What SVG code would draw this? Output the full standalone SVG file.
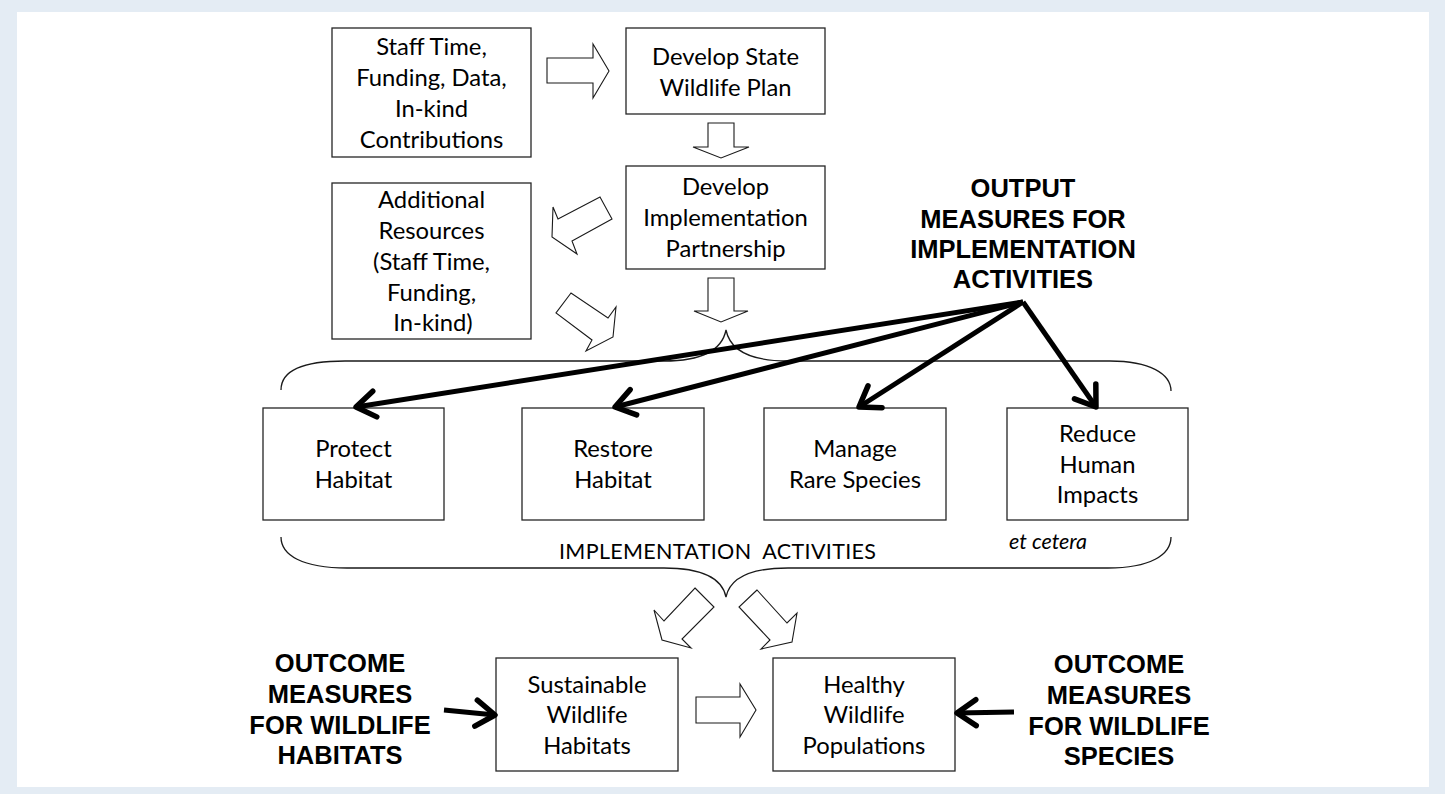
<svg xmlns="http://www.w3.org/2000/svg" width="1445" height="794" viewBox="0 0 1445 794">
  <style>
    .box { fill: #fff; stroke: #262626; stroke-width: 1.3; }
    .lbl { font-family: Lato, "Liberation Sans", sans-serif; font-size: 23.8px; fill: #000; text-anchor: middle; }
    .bold { font-family: "Liberation Sans", Arial, sans-serif; font-weight: bold; font-size: 25.5px; fill: #000; text-anchor: middle; }
    .block { fill: #fff; stroke: #1a1a1a; stroke-width: 1.1; stroke-linejoin: miter; }
    .thick { fill: none; stroke: #000; stroke-width: 5; marker-end: url(#chevron); }
    .brace { fill: none; stroke: #1a1a1a; stroke-width: 1.3; }
    .note { font-family: Lato, "Liberation Sans", sans-serif; font-size: 21.5px; fill: #000; }
  </style>
  <defs>
    <marker id="chevron" markerUnits="userSpaceOnUse" markerWidth="40" markerHeight="40" refX="0" refY="0" viewBox="-30 -20 40 40" orient="auto" overflow="visible">
      <path d="M-19,-13 L0,0 L-19,13" fill="none" stroke="#000" stroke-width="5.5" stroke-linecap="round" stroke-linejoin="round"/>
    </marker>
  </defs>

  <!-- page -->
  <rect x="0" y="0" width="1445" height="794" fill="#e4ecf4"/>
  <rect x="17" y="12" width="1412" height="775" fill="#fff"/>

  <!-- nodes -->
  <g id="inputs">
    <rect class="box" x="332" y="28" width="199" height="129"/>
    <text class="lbl" x="431.5" y="55">Staff Time,</text>
    <text class="lbl" x="431.5" y="86">Funding, Data,</text>
    <text class="lbl" x="431.5" y="117">In-kind</text>
    <text class="lbl" x="431.5" y="148">Contributions</text>
  </g>
  <g id="develop-plan">
    <rect class="box" x="626" y="28" width="199" height="86"/>
    <text class="lbl" x="725.5" y="65">Develop State</text>
    <text class="lbl" x="725.5" y="96">Wildlife Plan</text>
  </g>
  <g id="develop-partnership">
    <rect class="box" x="626" y="166" width="199" height="103"/>
    <text class="lbl" x="725.5" y="195">Develop</text>
    <text class="lbl" x="725.5" y="226">Implementation</text>
    <text class="lbl" x="725.5" y="257">Partnership</text>
  </g>
  <g id="additional-resources">
    <rect class="box" x="332" y="183" width="199" height="156"/>
    <text class="lbl" x="431.5" y="208">Additional</text>
    <text class="lbl" x="431.5" y="239">Resources</text>
    <text class="lbl" x="431.5" y="270">(Staff Time,</text>
    <text class="lbl" x="431.5" y="301">Funding,</text>
    <text class="lbl" x="433" y="331">In-kind)</text>
  </g>
  <g id="protect-habitat">
    <rect class="box" x="263" y="408" width="181" height="112"/>
    <text class="lbl" x="353.5" y="457">Protect</text>
    <text class="lbl" x="353.5" y="488">Habitat</text>
  </g>
  <g id="restore-habitat">
    <rect class="box" x="522" y="408" width="182" height="112"/>
    <text class="lbl" x="613" y="457">Restore</text>
    <text class="lbl" x="613" y="488">Habitat</text>
  </g>
  <g id="manage-species">
    <rect class="box" x="764" y="408" width="182" height="112"/>
    <text class="lbl" x="855" y="457">Manage</text>
    <text class="lbl" x="855" y="488">Rare Species</text>
  </g>
  <g id="reduce-impacts">
    <rect class="box" x="1007" y="408" width="181" height="112"/>
    <text class="lbl" x="1097.5" y="442">Reduce</text>
    <text class="lbl" x="1097.5" y="473">Human</text>
    <text class="lbl" x="1097.5" y="503">Impacts</text>
  </g>
  <g id="sustainable-habitats">
    <rect class="box" x="496" y="658" width="182" height="113"/>
    <text class="lbl" x="587" y="693">Sustainable</text>
    <text class="lbl" x="587" y="723">Wildlife</text>
    <text class="lbl" x="587" y="754">Habitats</text>
  </g>
  <g id="healthy-populations">
    <rect class="box" x="773" y="658" width="182" height="113"/>
    <text class="lbl" x="864" y="693">Healthy</text>
    <text class="lbl" x="864" y="723">Wildlife</text>
    <text class="lbl" x="864" y="754">Populations</text>
  </g>

  <!-- measure labels -->
  <g id="output-measures">
    <text class="bold" x="1023" y="197">OUTPUT</text>
    <text class="bold" x="1023" y="228">MEASURES FOR</text>
    <text class="bold" x="1023" y="258">IMPLEMENTATION</text>
    <text class="bold" x="1023" y="288">ACTIVITIES</text>
  </g>
  <g id="outcome-habitats">
    <text class="bold" x="340" y="672">OUTCOME</text>
    <text class="bold" x="340" y="703">MEASURES</text>
    <text class="bold" x="340" y="734">FOR WILDLIFE</text>
    <text class="bold" x="340" y="764">HABITATS</text>
  </g>
  <g id="outcome-species">
    <text class="bold" x="1119" y="673">OUTCOME</text>
    <text class="bold" x="1119" y="704">MEASURES</text>
    <text class="bold" x="1119" y="735">FOR WILDLIFE</text>
    <text class="bold" x="1119" y="765">SPECIES</text>
  </g>

  <!-- grouping braces and their captions -->
  <g id="activity-braces">
    <path class="brace" d="M281,390 C281,372 300,361 345,361 L664,361 C702,361 722,350 726,330 C730,350 750,361 788,361 L1110,361 C1150,361 1171,374 1171,391"/>
    <path class="brace" d="M281,537 C281,555 302,568 347,568 L664,568 C702,568 722,578 726,597 C730,578 750,568 788,568 L1108,568 C1150,568 1171,555 1171,537"/>
    <text class="note" x="559" y="559" textLength="317" lengthAdjust="spacing" xml:space="preserve">IMPLEMENTATION  ACTIVITIES</text>
    <text class="note" x="1009" y="549" font-style="italic" font-size="24.5px">et cetera</text>
  </g>

  <!-- connectors -->
  <g id="connectors">
    <!-- block arrows -->
    <polygon class="block" points="547,58 593,58 593,44 609,71 593,98 593,83 547,83"/>
    <polygon class="block" points="708,123 734,123 734,147 749,147 721,158 693,147 708,147"/>
    <polygon class="block" points="708,278 734,278 734,311 748,311 721,322 694,311 708,311"/>
    <polygon class="block" points="600,197 612,219 572,241 577,254 552,237 553,207 558,219"/>
    <polygon class="block" points="571,293 556,313 592,340 586,351 613,337 616,307 608,318"/>
    <polygon class="block" points="695,588 714,607 682,639 691,648 662,640 654,610 664,621"/>
    <polygon class="block" points="757,590 739,607 770,640 761,649 792,642 797,613 787,623"/>
    <polygon class="block" points="696,697 740,697 740,684 756,710 740,737 740,723 696,723"/>
    <!-- measure arrows -->
    <line class="thick" x1="1023" y1="302" x2="356" y2="407"/>
    <line class="thick" x1="1023" y1="302" x2="615" y2="407"/>
    <line class="thick" x1="1023" y1="302" x2="859" y2="407"/>
    <line class="thick" x1="1023" y1="302" x2="1096" y2="407"/>
    <line class="thick" x1="444" y1="710" x2="495" y2="715"/>
    <line class="thick" x1="1014" y1="712" x2="957" y2="713"/>
  </g>
</svg>
